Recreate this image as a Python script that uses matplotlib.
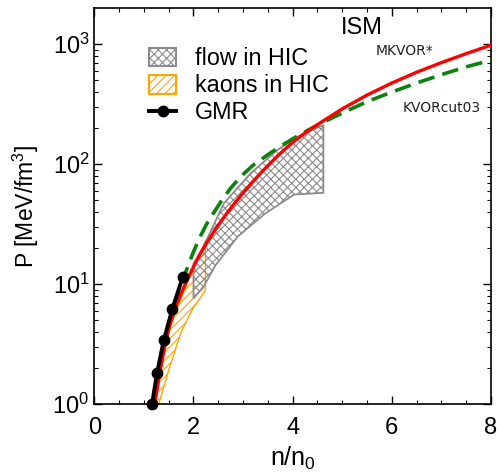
import numpy as np
import matplotlib
matplotlib.use("Agg")
import matplotlib.pyplot as plt
from matplotlib.patches import Patch, Polygon
from matplotlib.lines import Line2D

plt.rcParams['font.family'] = ['Liberation Sans', 'DejaVu Sans']
plt.rcParams['mathtext.fontset'] = 'custom'
plt.rcParams['mathtext.rm'] = 'Liberation Sans'
plt.rcParams['mathtext.it'] = 'Liberation Sans:italic'
plt.rcParams['mathtext.bf'] = 'Liberation Sans:bold'
plt.rcParams['lines.scale_dashes'] = False
plt.rcParams['hatch.linewidth'] = 0.8

# ---- data ----
# MKVOR* (red solid): n/n0 and log10(P)
mkvor_n = [1.22, 1.26, 1.30, 1.36, 1.43, 1.52, 1.65, 1.78, 1.90, 2.02, 2.14, 2.27, 2.40, 2.55,
           2.70, 2.85, 3.00, 3.20, 3.40, 3.70, 4.00, 4.30, 4.60, 5.00, 5.50, 6.00, 6.50, 7.00, 7.50, 8.00]
mkvor_logP = [0.00, 0.11, 0.21, 0.35, 0.50, 0.66, 0.82, 0.95, 1.06, 1.16, 1.255, 1.345, 1.43, 1.52,
              1.605, 1.685, 1.76, 1.855, 1.945, 2.07, 2.18, 2.275, 2.355, 2.46, 2.575, 2.675, 2.765,
              2.845, 2.92, 2.99]
# KVORcut03 (green dashed)
kvor_n = [1.19, 1.24, 1.29, 1.36, 1.43, 1.51, 1.60, 1.70, 1.79, 1.90, 2.01, 2.14, 2.27, 2.40, 2.55,
          2.74, 2.95, 3.20, 3.54, 3.74, 4.00, 4.30, 4.55, 4.75, 5.00, 5.50, 6.00, 6.50, 7.00, 7.50, 8.00]
kvor_logP = [0.00, 0.13, 0.26, 0.41, 0.54, 0.67, 0.80, 0.93, 1.04, 1.165, 1.28, 1.40, 1.505, 1.59,
             1.685, 1.795, 1.895, 1.99, 2.09, 2.145, 2.21, 2.28, 2.335, 2.375, 2.425, 2.52, 2.60,
             2.675, 2.745, 2.81, 2.865]
# GMR points
gmr_n = [1.165, 1.266, 1.40, 1.576, 1.784]
gmr_P = [1.01, 1.82, 3.41, 6.27, 11.5]
# flow in HIC (upper and lower boundaries)
flow_up_n = [2.00, 2.20, 2.61, 3.15, 3.69, 4.09, 4.62]
flow_up_P = [14.8, 20.5, 47.0, 83.6, 131, 169, 211]
flow_lo_n = [2.00, 2.22, 2.45, 2.90, 3.45, 4.03, 4.62]
flow_lo_P = [7.6, 9.8, 14.5, 25.1, 38.9, 55.8, 57.7]
# kaons in HIC (upper and lower boundaries)
kaon_up_n = [1.18, 1.30, 1.43, 1.65, 1.90, 2.10, 2.24]
kaon_up_P = [0.9, 1.6, 3.2, 6.0, 10.8, 16.5, 23.0]
kaon_lo_n = [1.24, 1.30, 1.50, 1.74, 1.97, 2.24]
kaon_lo_P = [0.8, 1.0, 1.92, 3.9, 6.1, 8.9]

fig = plt.figure(figsize=(4.98, 4.75), dpi=100)
ax = fig.add_axes([94.3/498, 1-404.3/475, (491-94.3)/498, (404.3-8)/475])

# kaon region
kverts = list(zip(kaon_up_n, kaon_up_P)) + list(zip(kaon_lo_n[::-1], kaon_lo_P[::-1]))
ax.add_patch(Polygon(kverts, closed=True, facecolor='none', edgecolor='#FFA500',
                     hatch='////', lw=1.0, zorder=2))
# flow region
fverts = list(zip(flow_up_n, flow_up_P)) + list(zip(flow_lo_n[::-1], flow_lo_P[::-1]))
ax.add_patch(Polygon(fverts, closed=True, facecolor='none', edgecolor='#8c8c8c',
                     hatch='xxxx', lw=1.3, zorder=2))

ax.plot(kvor_n, 10**np.array(kvor_logP), color='#0b820b', lw=2.6, dashes=(12, 6), zorder=3)
ax.plot(mkvor_n, 10**np.array(mkvor_logP), color='#ff0000', lw=2.4, zorder=4)
ax.plot(gmr_n, gmr_P, color='black', lw=2.8, marker='o', ms=7.5, zorder=5, clip_on=False)

ax.set_yscale('log')
ax.set_xlim(0, 8)
ax.set_ylim(1, 1995)
ax.set_xticks([0, 2, 4, 6, 8])
ax.set_xticks(np.arange(0, 8.01, 0.5), minor=True)
ax.tick_params(which='both', direction='in', top=True, right=True, labelsize=17)
ax.tick_params(which='major', length=6, width=1.0)
ax.tick_params(which='minor', length=3, width=0.8)
ax.tick_params(axis='x', pad=9)
for s in ax.spines.values():
    s.set_linewidth(1.2)

ax.set_xlabel('n/n$_0$', fontsize=18, labelpad=4)
ax.set_ylabel('P [MeV/fm$^3$]', fontsize=16.5, labelpad=8)

ax.text(5.39, 1350, 'ISM', fontsize=17, ha='center', va='center')
ax.text(6.26, 880, 'MKVOR*', fontsize=10, ha='center', va='center', family='DejaVu Sans', color='#222222')
ax.text(7.01, 293, 'KVORcut03', fontsize=10, ha='center', va='center', family='DejaVu Sans', color='#222222')

handles = [Patch(facecolor='white', edgecolor='#8c8c8c', hatch='xxxx', lw=1.5),
           Patch(facecolor='white', edgecolor='#FFA500', hatch='////', lw=1.5),
           Line2D([], [], color='black', lw=2.8, marker='o', ms=7.5)]
labels = ['flow in HIC', 'kaons in HIC', 'GMR']
leg = ax.legend(handles, labels, loc='upper left', bbox_to_anchor=(0.115, 0.925),
                frameon=False, fontsize=16.8, handlelength=1.16, handleheight=0.86,
                handletextpad=0.8, labelspacing=0.18, borderaxespad=0)

fig.savefig('out.png', dpi=100)
